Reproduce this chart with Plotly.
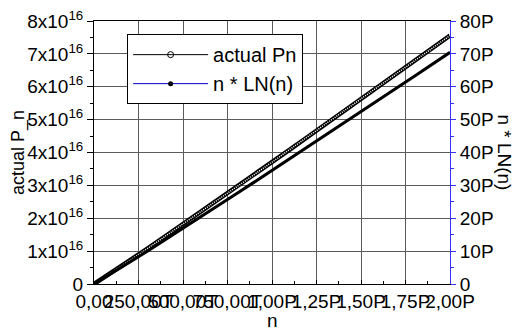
import plotly.graph_objects as go

# ---- data ----
n_vals = [0, 1e14, 2e14, 3e14, 4e14, 5e14, 6e14, 7e14, 8e14, 9e14, 1.0e15,
          1.1e15, 1.2e15, 1.3e15, 1.4e15, 1.5e15, 1.6e15, 1.7e15, 1.8e15, 1.9e15, 2.0e15]
actual_pn = [0, 3.47e15, 7.09e15, 10.75e15, 14.46e15, 18.18e15, 21.93e15, 25.70e15,
             29.48e15, 33.28e15, 37.08e15, 40.90e15, 44.72e15, 48.56e15, 52.40e15,
             56.25e15, 60.10e15, 63.96e15, 67.83e15, 71.71e15, 75.59e15]
n_ln_n = [0, 3.22e15, 6.59e15, 10.00e15, 13.45e15, 16.92e15, 20.42e15, 23.93e15,
          27.45e15, 30.99e15, 34.54e15, 38.10e15, 41.67e15, 45.24e15, 48.83e15,
          52.42e15, 56.01e15, 59.62e15, 63.23e15, 66.84e15, 70.46e15]

x_tickvals = [0, 2.5e14, 5e14, 7.5e14, 1e15, 1.25e15, 1.5e15, 1.75e15, 2e15]
x_ticktext = ["0,00", "250,00T", "500,00T", "750,00T", "1,00P", "1,25P", "1,50P", "1,75P", "2,00P"]
yl_tickvals = [0, 1e16, 2e16, 3e16, 4e16, 5e16, 6e16, 7e16, 8e16]
yl_ticktext = ["0"] + [f"{k}x10<sup>16</sup>" for k in range(1, 9)]
yr_ticktext = ["0", "10P", "20P", "30P", "40P", "50P", "60P", "70P", "80P"]

FONT = "Liberation Sans, Arial, sans-serif"

fig = go.Figure()

# actual Pn : dense open-circle band -> thick black line with white dotted core
fig.add_trace(go.Scatter(x=n_vals, y=actual_pn, mode="lines", showlegend=False,
                         line=dict(color="black", width=4.5)))
fig.add_trace(go.Scatter(x=n_vals, y=actual_pn, mode="lines", showlegend=False,
                         line=dict(color="white", width=1.5, dash="1px,1.2px")))
# n*LN(n) on the right axis
fig.add_trace(go.Scatter(x=n_vals, y=n_ln_n, mode="lines", showlegend=False, yaxis="y2",
                         line=dict(color="black", width=3)))

# legend entries
fig.add_trace(go.Scatter(x=[None], y=[None], mode="lines+markers", name="actual Pn",
                         line=dict(color="black", width=1),
                         marker=dict(symbol="circle-open", size=6, color="black",
                                     line=dict(width=1))))
fig.add_trace(go.Scatter(x=[None], y=[None], mode="lines+markers", name="n * LN(n)",
                         line=dict(color="#0000cc", width=1),
                         marker=dict(symbol="circle", size=5, color="black")))

# the page body adds an 8px margin, so the figure is 8px smaller and shifted
fig.update_layout(
    width=512, height=324,
    margin=dict(l=86, r=70, t=13, b=48, autoexpand=False),
    paper_bgcolor="white", plot_bgcolor="white",
    font=dict(family=FONT, color="black", size=19),
    showlegend=True,
    legend=dict(x=0.093, y=0.95, xanchor="left", yanchor="top",
                bgcolor="white", bordercolor="black", borderwidth=1,
                font=dict(size=20, family=FONT), tracegroupgap=0,
                itemwidth=75),
    xaxis=dict(range=[0, 2e15], tickvals=x_tickvals, ticktext=x_ticktext, tickangle=0,
               automargin=False, ticklabeloverflow="allow",
               showgrid=True, gridcolor="#5a5a5a", gridwidth=1,
               showline=True, linecolor="black", linewidth=1, mirror=True,
               ticks="inside", ticklen=4, tickcolor="black",
               minor=dict(ticks="inside", dtick=1.25e14, tick0=0, ticklen=3,
                          tickcolor="black", showgrid=False),
               zeroline=False, tickfont=dict(size=19)),
    yaxis=dict(range=[0, 8e16], tickvals=yl_tickvals, ticktext=yl_ticktext,
               automargin=False, ticklabeloverflow="allow",
               showgrid=True, gridcolor="#5a5a5a", gridwidth=1,
               showline=True, linecolor="black", linewidth=1,
               ticks="outside", ticklen=6, tickcolor="black",
               minor=dict(ticks="outside", dtick=5e15, tick0=0, ticklen=3,
                          tickcolor="black", showgrid=False),
               zeroline=False, tickfont=dict(size=19)),
    yaxis2=dict(range=[0, 8e16], tickvals=yl_tickvals, ticktext=yr_ticktext,
                automargin=False, ticklabeloverflow="allow",
                overlaying="y", side="right", showgrid=False,
                showline=True, linecolor="#3333ff", linewidth=1,
                ticks="outside", ticklen=5, tickcolor="#3333ff",
                minor=dict(ticks="outside", dtick=5e15, tick0=0, ticklen=3,
                           tickcolor="#3333ff", showgrid=False),
                zeroline=False, tickfont=dict(size=19)),
    annotations=[
        dict(text="actual P_n", xref="paper", yref="paper", x=-0.212, y=0.5,
             textangle=-90, showarrow=False, font=dict(size=18),
             xanchor="center", yanchor="middle"),
        dict(text="n", xref="paper", yref="paper", x=0.5, y=-0.14,
             showarrow=False, font=dict(size=19), xanchor="center", yanchor="middle"),
        dict(text="n * LN(n)", xref="paper", yref="paper", x=1.152, y=0.5,
             textangle=90, showarrow=False, font=dict(size=19),
             xanchor="center", yanchor="middle"),
    ],
)

fig.write_html("out.html")
